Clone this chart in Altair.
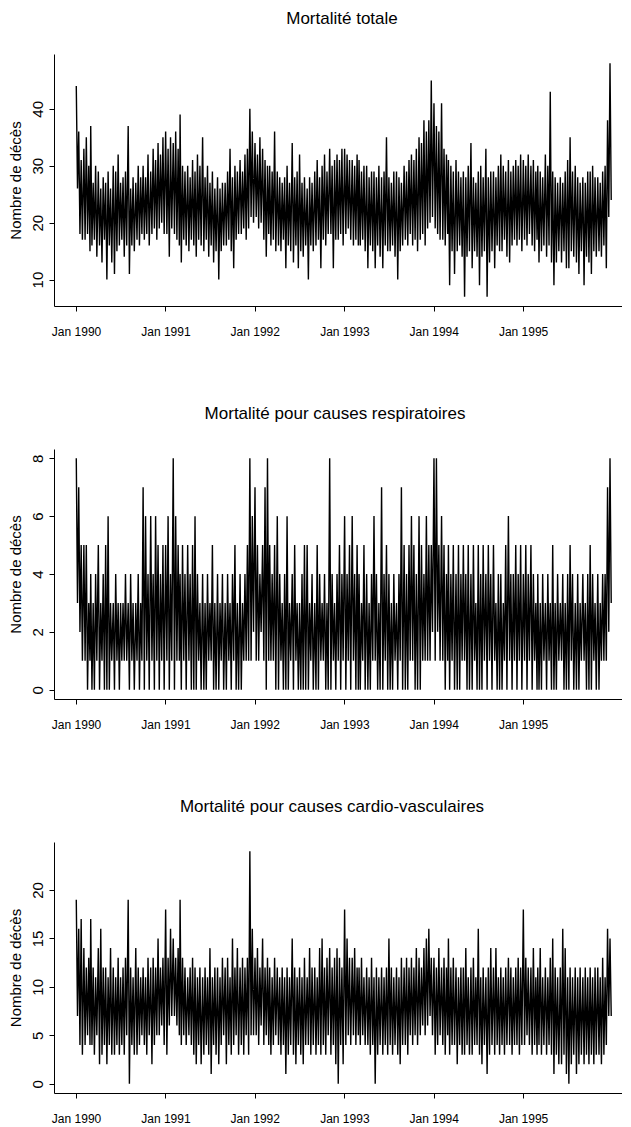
import altair as alt
import pandas as pd

# ---- Mortalité totale: high / low per ~10-day period (3 per month), 1990-1995 ----
TOT_HI = [
    44, 36, 31, 33, 35, 30, 37, 27, 30, 29, 26, 28, 27, 29, 26, 30, 29, 32, 27, 28, 29, 37, 26, 28, 27, 30, 28, 30, 28, 32, 29, 33, 31, 34, 32, 35,
    36, 33, 35, 34, 36, 33, 39, 30, 29, 30, 28, 31, 29, 32, 30, 35, 28, 30, 27, 29, 26, 28, 26, 27, 27, 29, 33, 28, 30, 29, 31, 29, 32, 33, 40, 36,
    34, 32, 35, 33, 31, 30, 30, 29, 36, 29, 28, 27, 28, 30, 27, 34, 28, 29, 32, 27, 28, 26, 28, 27, 29, 31, 28, 30, 32, 29, 33, 30, 31, 32, 31, 33,
    33, 32, 31, 31, 30, 32, 31, 29, 30, 30, 28, 29, 29, 28, 30, 28, 29, 35, 28, 27, 29, 29, 28, 27, 30, 29, 31, 32, 31, 33, 35, 34, 38, 36, 38, 45,
    41, 37, 36, 41, 33, 32, 31, 30, 29, 31, 29, 28, 29, 28, 30, 34, 28, 27, 29, 30, 28, 33, 28, 29, 29, 28, 30, 32, 30, 29, 31, 29, 30, 31, 30, 32,
    31, 30, 32, 30, 31, 29, 30, 29, 28, 32, 30, 43, 29, 28, 27, 28, 27, 29, 31, 35, 29, 30, 28, 27, 28, 27, 29, 29, 30, 28, 28, 27, 29, 30, 38, 48,
]
TOT_LO = [
    26, 18, 17, 17, 18, 15, 16, 17, 14, 16, 13, 17, 10, 16, 13, 11, 15, 16, 17, 14, 16, 11, 16, 15, 17, 16, 18, 17, 18, 16, 18, 19, 17, 19, 20, 18,
    18, 14, 19, 18, 17, 16, 13, 17, 16, 15, 17, 16, 14, 17, 16, 15, 17, 14, 16, 13, 15, 10, 15, 16, 16, 17, 15, 12, 17, 18, 18, 19, 17, 19, 21, 20,
    21, 19, 20, 17, 14, 18, 16, 17, 15, 16, 15, 17, 12, 16, 15, 13, 16, 12, 15, 14, 16, 10, 16, 15, 16, 17, 12, 17, 16, 18, 18, 12, 17, 17, 18, 16,
    18, 19, 17, 16, 17, 16, 16, 17, 15, 12, 16, 15, 12, 16, 14, 12, 16, 15, 15, 16, 14, 10, 15, 16, 17, 16, 18, 16, 17, 15, 17, 18, 16, 19, 20, 21,
    19, 18, 17, 17, 16, 18, 9, 15, 11, 15, 16, 14, 7, 14, 15, 12, 15, 14, 9, 14, 15, 7, 13, 15, 12, 16, 15, 15, 17, 14, 13, 16, 17, 16, 17, 15,
    17, 16, 18, 16, 15, 17, 13, 15, 16, 14, 16, 13, 9, 13, 15, 13, 15, 12, 12, 15, 14, 13, 11, 15, 9, 14, 13, 11, 15, 14, 15, 14, 16, 12, 21, 24,
]

# ---- Mortalité pour causes respiratoires ----
RESP_HI = [
    8, 7, 5, 5, 5, 3, 4, 3, 4, 5, 3, 4, 5, 6, 3, 3, 4, 3, 3, 3, 4, 3, 4, 3, 3, 4, 3, 7, 6, 4, 6, 4, 6, 5, 4, 5,
    5, 6, 4, 8, 6, 5, 4, 5, 4, 5, 4, 5, 6, 4, 3, 4, 3, 4, 3, 5, 3, 4, 3, 4, 3, 4, 3, 4, 5, 3, 4, 3, 4, 5, 8, 6,
    7, 5, 4, 5, 7, 8, 5, 4, 5, 6, 4, 3, 4, 6, 3, 4, 5, 3, 3, 4, 5, 5, 3, 4, 3, 5, 4, 3, 4, 3, 8, 4, 3, 4, 5, 4,
    6, 4, 5, 6, 4, 5, 4, 3, 5, 4, 3, 4, 6, 4, 3, 7, 4, 5, 4, 3, 4, 3, 4, 7, 5, 4, 5, 6, 5, 4, 6, 5, 4, 6, 5, 5,
    8, 8, 5, 6, 5, 4, 5, 4, 5, 4, 5, 4, 5, 4, 5, 4, 5, 3, 5, 4, 5, 4, 5, 4, 5, 3, 4, 4, 3, 5, 6, 4, 4, 5, 4, 5,
    4, 5, 4, 5, 4, 3, 4, 3, 4, 3, 4, 3, 5, 3, 4, 3, 4, 3, 4, 5, 4, 3, 4, 3, 4, 3, 4, 5, 4, 3, 4, 3, 4, 4, 7, 8,
]
RESP_LO = [
    3, 2, 1, 1, 0, 1, 0, 0, 1, 0, 1, 0, 0, 0, 1, 0, 1, 0, 1, 1, 1, 0, 1, 0, 1, 0, 1, 0, 1, 0, 1, 0, 1, 0, 1, 0,
    1, 0, 1, 0, 1, 1, 0, 1, 0, 1, 0, 0, 0, 1, 0, 0, 0, 1, 1, 0, 0, 0, 1, 0, 0, 1, 0, 1, 0, 0, 0, 1, 1, 1, 1, 2,
    1, 1, 2, 1, 0, 1, 1, 1, 0, 0, 1, 0, 0, 0, 1, 0, 1, 0, 0, 0, 0, 0, 1, 0, 0, 0, 1, 1, 0, 0, 0, 1, 0, 1, 0, 1,
    0, 1, 0, 1, 0, 0, 0, 1, 0, 0, 0, 1, 1, 0, 0, 0, 1, 0, 0, 0, 1, 0, 1, 0, 0, 0, 1, 1, 0, 0, 0, 1, 1, 1, 1, 2,
    1, 2, 1, 1, 0, 1, 0, 1, 0, 0, 0, 1, 1, 0, 0, 0, 1, 0, 0, 0, 1, 0, 1, 0, 1, 0, 0, 0, 1, 0, 1, 0, 1, 0, 1, 0,
    1, 0, 1, 0, 1, 0, 0, 0, 1, 0, 1, 0, 0, 0, 1, 1, 0, 0, 0, 1, 0, 0, 0, 1, 1, 0, 0, 0, 1, 0, 0, 1, 1, 1, 2, 3,
]

# ---- Mortalité pour causes cardio-vasculaires ----
CARD_HI = [
    19, 16, 17, 14, 12, 13, 17, 12, 11, 14, 16, 12, 12, 11, 14, 12, 11, 13, 11, 12, 13, 19, 12, 11, 14, 12, 11, 12, 11, 13, 12, 13, 12, 15, 12, 13,
    18, 13, 16, 15, 13, 14, 19, 13, 12, 11, 12, 13, 12, 11, 12, 11, 12, 11, 14, 11, 12, 12, 11, 13, 12, 13, 11, 15, 12, 14, 12, 13, 12, 13, 24, 16,
    13, 14, 12, 15, 12, 13, 12, 11, 13, 12, 11, 12, 11, 12, 11, 15, 12, 11, 12, 11, 13, 11, 14, 12, 12, 11, 14, 15, 12, 13, 14, 12, 13, 14, 13, 12,
    18, 15, 13, 13, 14, 12, 12, 13, 11, 12, 11, 13, 11, 12, 11, 12, 11, 12, 15, 12, 11, 12, 11, 13, 12, 13, 12, 13, 12, 14, 13, 12, 14, 15, 16, 13,
    13, 12, 14, 12, 13, 12, 15, 12, 13, 12, 11, 12, 12, 14, 11, 12, 13, 11, 16, 11, 12, 11, 12, 14, 12, 14, 11, 12, 11, 12, 13, 12, 11, 12, 13, 12,
    18, 13, 12, 12, 14, 11, 12, 14, 11, 12, 11, 13, 15, 12, 11, 12, 16, 14, 11, 12, 11, 12, 11, 12, 11, 12, 11, 12, 11, 12, 12, 11, 13, 11, 16, 15,
]
CARD_LO = [
    7, 4, 3, 4, 5, 4, 4, 3, 5, 2, 3, 4, 2, 4, 3, 3, 4, 3, 4, 3, 5, 0, 4, 3, 3, 4, 5, 4, 3, 5, 2, 4, 5, 5, 6, 4,
    3, 6, 7, 7, 6, 5, 4, 5, 4, 5, 4, 3, 2, 4, 2, 3, 4, 3, 1, 4, 3, 2, 4, 5, 2, 4, 3, 4, 5, 3, 4, 3, 5, 3, 5, 5,
    5, 4, 6, 4, 5, 4, 3, 4, 5, 4, 3, 4, 1, 3, 4, 3, 2, 4, 3, 2, 4, 4, 3, 4, 3, 4, 3, 4, 3, 5, 3, 4, 2, 0, 4, 2,
    4, 5, 4, 5, 4, 5, 4, 5, 4, 4, 3, 4, 0, 3, 4, 3, 4, 3, 4, 3, 4, 3, 2, 4, 4, 3, 5, 4, 5, 4, 5, 6, 5, 6, 7, 5,
    3, 4, 5, 4, 3, 5, 3, 4, 4, 2, 4, 3, 3, 4, 3, 3, 4, 4, 3, 2, 4, 1, 3, 4, 3, 4, 3, 4, 3, 4, 4, 3, 4, 4, 3, 4,
    4, 5, 4, 3, 4, 3, 4, 3, 4, 3, 4, 3, 1, 3, 2, 2, 3, 1, 0, 2, 3, 1, 2, 3, 2, 3, 2, 3, 2, 3, 3, 2, 3, 4, 7, 7,
]

YEARS = [1990, 1991, 1992, 1993, 1994, 1995]
HI_DAYS = [2, 12, 22]
LO_DAYS = [7, 17, 27]

SANS = "Liberation Sans, Arial, sans-serif"


def build(hi, lo):
    rows = []
    for p in range(len(hi)):
        y = YEARS[0] + p // 36
        m = (p % 36) // 3 + 1
        k = p % 3
        rows.append({"date": f"{y}-{m:02d}-{HI_DAYS[k]:02d}", "v": hi[p]})
        rows.append({"date": f"{y}-{m:02d}-{LO_DAYS[k]:02d}", "v": lo[p]})
    return pd.DataFrame(rows)


XTICKS = [alt.DateTime(year=y, month=1, date=1) for y in YEARS]
XDOM = [alt.DateTime(year=1989, month=10, date=3), alt.DateTime(year=1996, month=2, date=9)]
W = 568


def panel(df, title, ydom, yticks, h, tdx):
    return (
        alt.Chart(df)
        .mark_line(color="black", strokeWidth=1.4, clip=True)
        .encode(
            x=alt.X(
                "date:T",
                scale=alt.Scale(domain=XDOM),
                axis=alt.Axis(
                    values=XTICKS, format="%b %Y", title=None, grid=False,
                    tickSize=5, labelPadding=15, labelFont=SANS, labelFontSize=12,
                    labelColor="black", domainColor="black", tickColor="black",
                    labelAlign="center", labelBaseline="top",
                    labelFlush=False, labelOverlap=False,
                ),
            ),
            y=alt.Y(
                "v:Q",
                scale=alt.Scale(domain=ydom, nice=False, zero=False),
                axis=alt.Axis(
                    values=yticks, title="Nombre de décès", grid=False,
                    domainColor="black", tickColor="black", labelColor="black",
                    titleColor="black", tickSize=5, labelAngle=270,
                    labelAlign="center", labelBaseline="bottom", labelPadding=4,
                    labelFont=SANS, labelFontSize=15, titleFont=SANS, titleFontSize=15,
                    titleFontWeight="normal", titleAngle=270, titleAlign="center",
                    titleBaseline="middle", titleX=-39, titleY=h / 2,
                    labelOverlap=False, labelFlush=False,
                ),
            ),
        )
        .properties(
            width=W, height=h,
            title=alt.TitleParams(
                title, font=SANS, fontSize=17, fontWeight="normal", color="black",
                anchor="middle", offset=13, baseline="alphabetic", frame="group", dx=tdx,
            ),
        )
    )


p1 = panel(build(TOT_HI, TOT_LO), "Mortalité totale", [5.36, 49.64], [10, 20, 30, 40], 252, 4)
p2 = panel(build(RESP_HI, RESP_LO), "Mortalité pour causes respiratoires", [-0.32, 8.32], [0, 2, 4, 6, 8], 250, -3)
p3 = panel(build(CARD_HI, CARD_LO), "Mortalité pour causes cardio-vasculaires", [-0.96, 24.96], [0, 5, 10, 15, 20], 251, -6)

chart = (
    alt.vconcat(p1, p2, p3, spacing=68)
    .properties(padding={"left": 0, "top": 2, "right": 0, "bottom": 0})
    .configure_view(stroke=None)
)

chart.save("out.html", embed_options={"renderer": "svg", "actions": False})
